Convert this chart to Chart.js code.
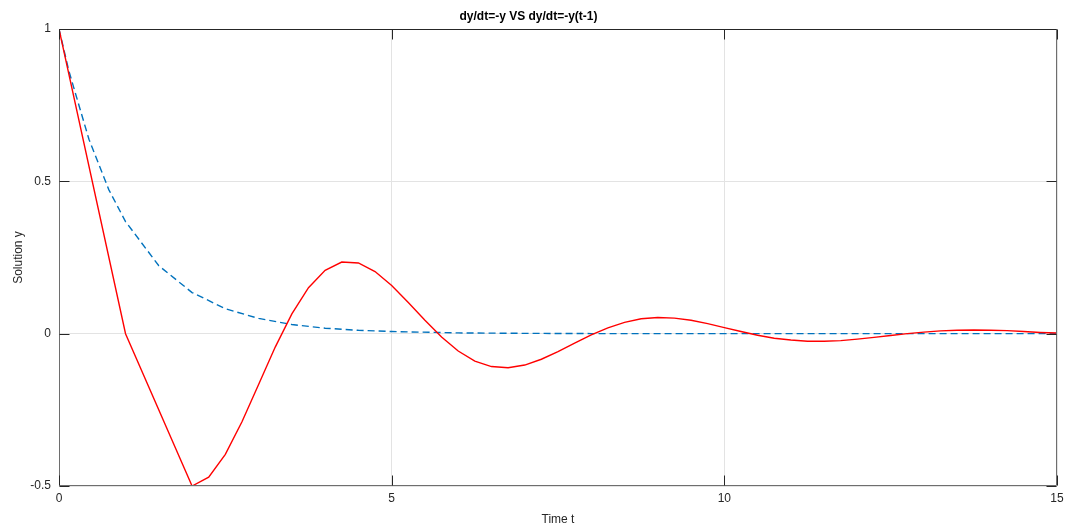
<!DOCTYPE html>
<html>
<head>
<meta charset="utf-8">
<script src="https://cdn.jsdelivr.net/npm/chart.js@4.4.1/dist/chart.umd.min.js"></script>
<style>
  html, body { margin: 0; padding: 0; background: #fff; }
  #wrap { width: 1066px; height: 525px; }
</style>
</head>
<body>
<div id="wrap"><canvas id="odeChart"></canvas></div>
<script>
// dy/dt = -y  (dashed blue)
const expTimes  = [0, 0.15, 0.45, 0.75, 1, 1.5, 2, 2.5, 3, 3.5, 4, 4.5, 5, 6, 7, 8, 10, 12, 15];
const expValues = [1, 0.861, 0.638, 0.472, 0.368, 0.223, 0.135, 0.082, 0.050, 0.030, 0.018, 0.011, 0.007, 0.0025, 0.001, 0.0003, 0.00005, 0, 0];

// dy/dt = -y(t-1)  (solid red)
const delayTimes  = [0, 1, 2, 2.25, 2.5, 2.75, 3, 3.25, 3.5, 3.75, 4, 4.25, 4.5, 4.75, 5, 5.25, 5.5, 5.75, 6,
  6.25, 6.5, 6.75, 7, 7.25, 7.5, 7.75, 8, 8.25, 8.5, 8.75, 9, 9.25, 9.5, 9.75, 10, 10.25, 10.5, 10.75, 11,
  11.25, 11.5, 11.75, 12, 12.25, 12.5, 12.75, 13, 13.25, 13.5, 13.75, 14, 14.25, 14.5, 14.75, 15];
const delayValues = [1, 0, -0.5, -0.471, -0.396, -0.289, -0.167, -0.044, 0.065, 0.151, 0.208, 0.235, 0.232, 0.204, 0.158,
  0.102, 0.044, -0.011, -0.057, -0.090, -0.108, -0.112, -0.103, -0.084, -0.059, -0.031, -0.004, 0.019, 0.037, 0.049,
  0.053, 0.051, 0.044, 0.033, 0.020, 0.007, -0.005, -0.015, -0.021, -0.025, -0.025, -0.023, -0.018, -0.012, -0.006,
  0.000, 0.005, 0.009, 0.011, 0.012, 0.011, 0.010, 0.007, 0.004, 0.002];

const xTicks = [0, 5, 10, 15];
const yTicks = [-0.5, 0, 0.5, 1];

const axisColor = '#262626';
const fontFamily = "'Liberation Sans', Arial, sans-serif";

// box around the axes with inward ticks on all four sides
const framePlugin = {
  id: 'frame',
  afterDraw(chart) {
    const { ctx, chartArea: a, scales } = chart;
    const L = Math.round(a.left) + 0.5, R = Math.round(a.right) - 0.5;
    const T = Math.round(a.top) + 0.5, B = Math.round(a.bottom) - 0.5;
    const tick = 10;
    ctx.save();
    ctx.lineWidth = 1;
    // left, bottom, right: grey-ish
    ctx.strokeStyle = '#6e6e6e';
    ctx.beginPath();
    ctx.moveTo(L, T); ctx.lineTo(L, B); ctx.lineTo(R, B); ctx.lineTo(R, T);
    ctx.stroke();
    // top edge and ticks: dark
    ctx.strokeStyle = axisColor;
    ctx.beginPath();
    ctx.moveTo(L, T); ctx.lineTo(R, T);
    xTicks.forEach(v => {
      const px = Math.round(scales.x.getPixelForValue(v)) + 0.5;
      ctx.moveTo(px, B); ctx.lineTo(px, B - tick);
      ctx.moveTo(px, T); ctx.lineTo(px, T + tick);
    });
    yTicks.forEach(v => {
      const py = Math.round(scales.y.getPixelForValue(v)) + 0.5;
      ctx.moveTo(L, py); ctx.lineTo(L + tick, py);
      ctx.moveTo(R, py); ctx.lineTo(R - tick, py);
    });
    ctx.stroke();
    ctx.restore();
  }
};

new Chart(document.getElementById('odeChart').getContext('2d'), {
  type: 'line',
  data: {
    datasets: [
      {
        label: 'dy/dt=-y(t-1)',
        data: delayTimes.map((t, i) => ({ x: t, y: delayValues[i] })),
        borderColor: '#ff0000',
        borderWidth: 1.4,
        pointRadius: 0,
        tension: 0,
        order: 0
      },
      {
        label: 'dy/dt=-y',
        data: expTimes.map((t, i) => ({ x: t, y: expValues[i] })),
        borderColor: '#0072bd',
        borderWidth: 1.4,
        borderDash: [7, 4],
        pointRadius: 0,
        tension: 0,
        order: 1
      }
    ]
  },
  options: {
    responsive: true,
    maintainAspectRatio: false,
    animation: false,
    layout: { padding: { left: 0, right: 9, top: 0, bottom: 0 } },
    plugins: {
      legend: { display: false },
      tooltip: { enabled: false },
      title: {
        display: true,
        text: 'dy/dt=-y VS dy/dt=-y(t-1)',
        color: '#000',
        font: { family: fontFamily, size: 12, weight: 'bold' },
        padding: { top: 9, bottom: 5.6 }
      }
    },
    scales: {
      x: {
        type: 'linear',
        min: 0, max: 15,
        afterBuildTicks: s => { s.ticks = xTicks.map(v => ({ value: v })); },
        afterFit: s => { s.height = 39; s.paddingLeft = 0; s.paddingRight = 0; },
        grid: { color: '#e3e3e3', drawTicks: false },
        border: { display: false },
        ticks: { color: axisColor, padding: 5, font: { family: fontFamily, size: 12 } },
        title: {
          display: true, text: 'Time t', color: axisColor,
          font: { family: fontFamily, size: 12 }, padding: { top: 0, bottom: -2 }
        }
      },
      y: {
        type: 'linear',
        min: -0.5, max: 1,
        afterBuildTicks: s => { s.ticks = yTicks.map(v => ({ value: v })); },
        afterFit: s => { s.width = 59; s.paddingTop = 0; s.paddingBottom = 0; },
        grid: { color: '#e3e3e3', drawTicks: false },
        border: { display: false },
        ticks: {
          color: axisColor, padding: 8, font: { family: fontFamily, size: 12 },
          callback: v => String(v)
        },
        title: {
          display: true, text: 'Solution y', color: axisColor,
          font: { family: fontFamily, size: 12 }, padding: { top: 11, bottom: 0 }
        }
      }
    }
  },
  plugins: [framePlugin]
});
</script>
</body>
</html>
